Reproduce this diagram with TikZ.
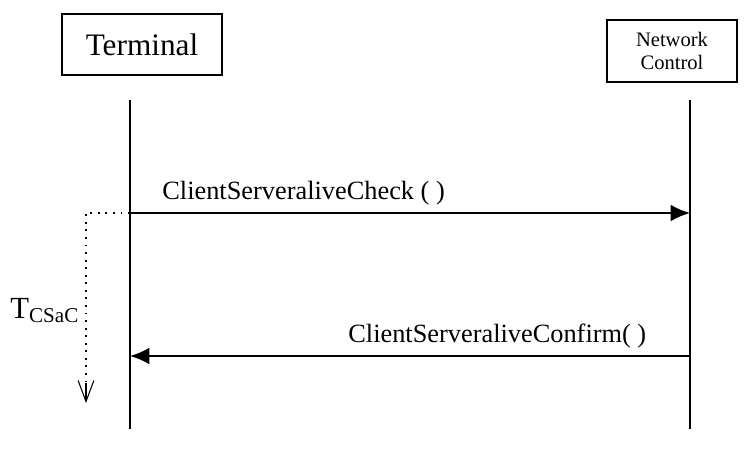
\documentclass[tikz,border=0pt]{standalone}
\usepackage{fontspec}
\setmainfont{Liberation Serif}
\usetikzlibrary{arrows.meta}
\begin{document}
\begin{tikzpicture}[x=0.02cm, y=-0.02cm, >=Latex,
	actor/.style={draw, line width=1.3pt, inner sep=0pt, align=center},
	msg/.style={line width=1.1pt, -{Latex[length=11pt, width=9.5pt]}},
	timer/.style={line width=1.1pt, dash pattern=on 1.1pt off 3.2pt}]
\useasboundingbox (0,0) rectangle (750,457);
	% the two parties
\node[actor, minimum width=160*0.02cm, minimum height=61*0.02cm, font=\fontsize{17.8}{20}\selectfont] (term) at (142,44.5) {Terminal};
\node[actor, minimum width=130*0.02cm, minimum height=62*0.02cm, font=\fontsize{11.7}{12.6}\selectfont] (netc) at (672,51) {Network\\Control};
\coordinate (ta) at (130,100); \coordinate (tb) at (130,429);
\coordinate (na) at (690,100); \coordinate (nb) at (690,429);
\draw [line width=1.1pt](ta)--(tb);  \draw [line width=1.1pt](na)--(nb);

	% messages
\coordinate (t1) at (130,213); \coordinate (n1) at (690,213);
\coordinate (t2) at (130,356); \coordinate (n2) at (690,356);
\draw[msg](t1)--(n1);
\draw[msg](n2)--(t2);
\node[font=\fontsize{15}{18}\selectfont, anchor=base west, inner sep=0pt] (chk) at (162,199) {ClientServeraliveCheck ( )};
\node[font=\fontsize{15}{18}\selectfont, anchor=base west, inner sep=0pt] (cnf) at (348,342) {ClientServeraliveConfirm( )};

	% supervision timer
\coordinate (c1) at (86,213); \coordinate (c2) at (86,403);
\draw[timer](t1)--(c1)--(c2);
\draw[line width=0.6pt, -{Straight Barb[length=12pt, width=9pt]}]([yshift=0.4cm]c2)--(c2);
\node[anchor=base west, inner sep=0pt, font=\fontsize{17.5}{20}\selectfont] (tim) at (10,318) {T\raisebox{-5\dimexpr 0.567pt\relax}{\fontsize{12}{14}\selectfont CSaC}};
\end{tikzpicture}
\end{document}
